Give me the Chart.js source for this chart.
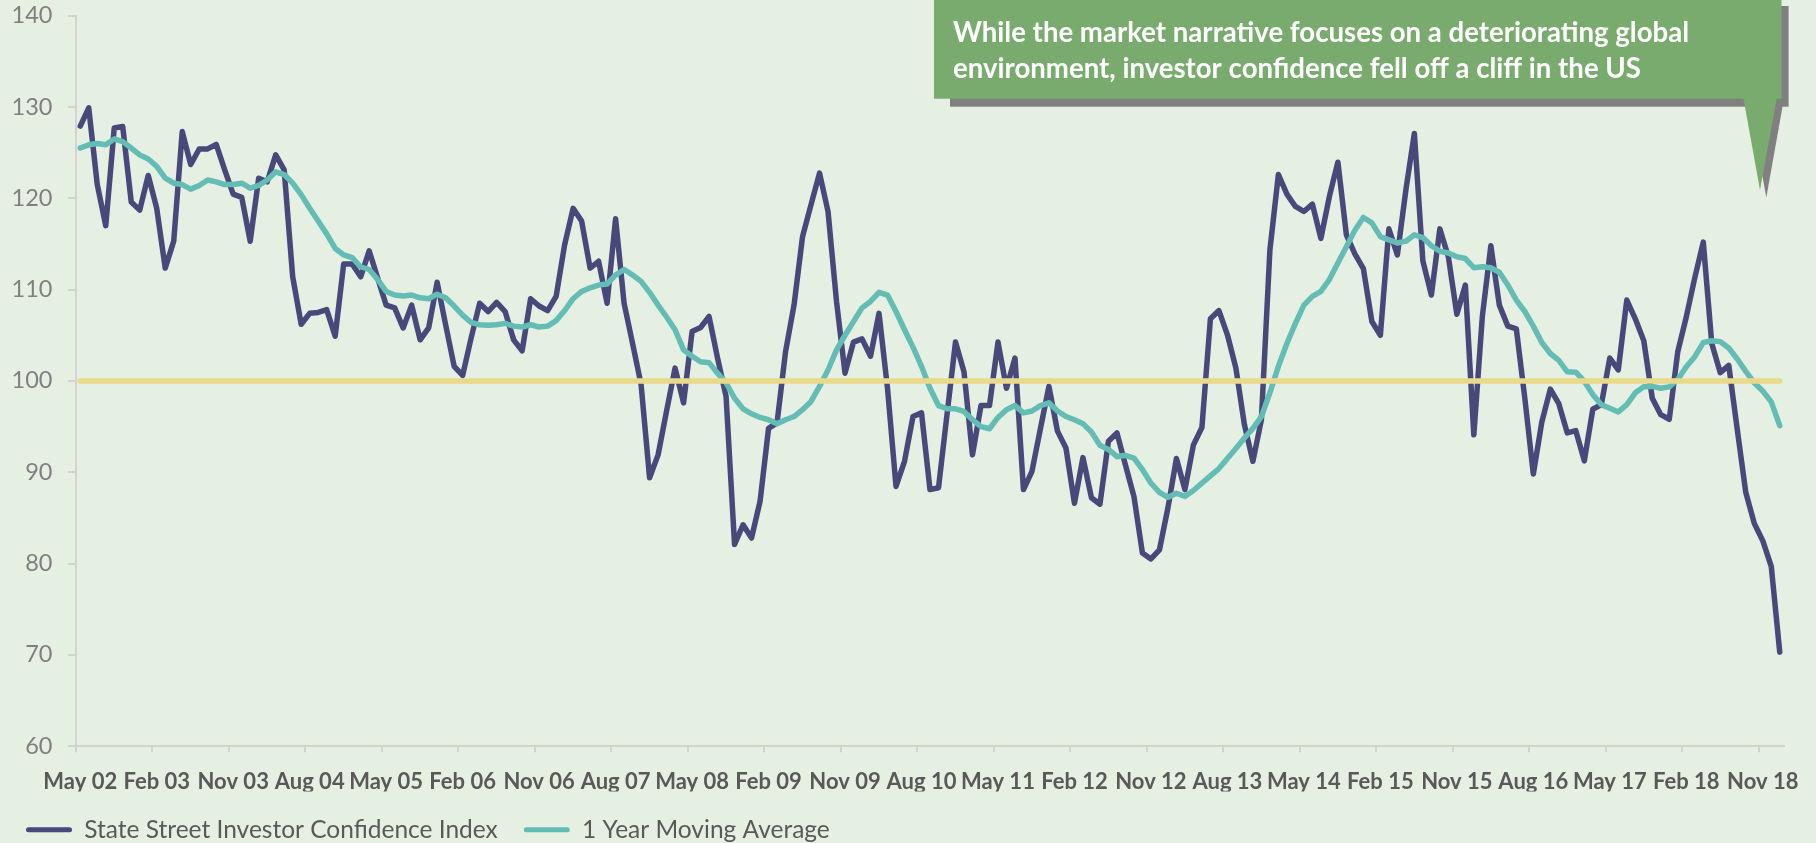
<!DOCTYPE html>
<html>
<head>
<meta charset="utf-8">
<script src="https://cdn.jsdelivr.net/npm/chart.js@4"></script>
<style>
  html, body { margin: 0; padding: 0; background: #e5efe2; overflow: hidden; }
  #wrap { width: 1816px; height: 843px; overflow: hidden; }
  canvas { display: block; }
</style>
</head>
<body>
<div id="wrap"><canvas id="chart" width="1816" height="852"></canvas></div>
<script>
// monthly, May 2002 .. Jan 2019
const tickLabels = ['May 02', 'Feb 03', 'Nov 03', 'Aug 04', 'May 05', 'Feb 06', 'Nov 06', 'Aug 07',
  'May 08', 'Feb 09', 'Nov 09', 'Aug 10', 'May 11', 'Feb 12', 'Nov 12', 'Aug 13', 'May 14',
  'Feb 15', 'Nov 15', 'Aug 16', 'May 17', 'Feb 18', 'Nov 18'];

const confidenceIndex = [
  127.9, 129.9, 121.5, 117.0, 127.7, 127.85, 119.6, 118.7, 122.5, 118.9,
  112.35, 115.3, 127.3, 123.7, 125.4, 125.4, 125.9, 123.1, 120.45, 120.1,
  115.3, 122.2, 121.8, 124.75, 123.1, 111.4, 106.2, 107.4, 107.5, 107.8,
  104.9, 112.8, 112.8, 111.4, 114.25, 111.25, 108.3, 108.0, 105.8, 108.3,
  104.5, 105.8, 110.8, 106.15, 101.6, 100.6, 104.7, 108.5, 107.6, 108.6,
  107.6, 104.5, 103.3, 109.0, 108.2, 107.7, 109.25, 114.9, 118.9, 117.5,
  112.35, 113.1, 108.5, 117.75, 108.5, 104.1, 99.6, 89.4, 91.9, 96.7,
  101.4, 97.6, 105.4, 105.85, 107.05, 102.5, 98.3, 82.1, 84.25, 82.8,
  86.8, 94.8, 95.4, 103.2, 108.3, 115.8, 119.3, 122.75, 118.55, 108.7,
  100.85, 104.25, 104.6, 102.7, 107.4, 99.2, 88.45, 91.2, 96.1, 96.5,
  88.1, 88.3, 96.3, 104.25, 101.0, 91.9, 97.3, 97.3, 104.25, 99.2,
  102.5, 88.1, 90.1, 94.8, 99.4, 94.5, 92.65, 86.6, 91.6, 87.2,
  86.5, 93.4, 94.3, 90.8, 87.35, 81.15, 80.5, 81.5, 86.1, 91.5,
  88.1, 93.0, 94.9, 106.8, 107.7, 105.05, 101.4, 95.2, 91.2, 95.75,
  114.35, 122.6, 120.45, 119.1, 118.55, 119.35, 115.6, 120.2, 123.95, 116.0,
  113.9, 112.3, 106.5, 105.0, 116.65, 113.8, 120.9, 127.1, 113.15, 109.4,
  116.65, 113.6, 107.3, 110.5, 94.1, 107.05, 114.8, 108.3, 106.0, 105.7,
  98.1, 89.8, 95.5, 99.1, 97.5, 94.3, 94.55, 91.25, 96.9, 97.4,
  102.5, 101.2, 108.85, 106.8, 104.4, 98.1, 96.3, 95.8, 103.2, 107.0,
  111.3, 115.2, 104.1, 100.9, 101.7, 94.7, 87.8, 84.4, 82.5, 79.7,
  70.3
];

const movingAverage = [
  125.5, 125.85, 126.0, 125.85, 126.5, 126.2, 125.5, 124.75, 124.3, 123.5,
  122.2, 121.65, 121.5, 121.0, 121.4, 122.0, 121.8, 121.5, 121.5, 121.65,
  121.1, 121.4, 122.0, 122.9, 122.6, 121.65, 120.4, 118.9, 117.5, 116.1,
  114.5, 113.8, 113.5, 112.5, 112.2, 111.1, 109.8, 109.4, 109.3, 109.4,
  109.1, 109.0, 109.5, 109.1, 108.2, 107.2, 106.4, 106.15, 106.1, 106.15,
  106.3, 106.0, 105.9, 106.15, 105.9, 106.0, 106.6, 107.7, 109.0, 109.8,
  110.2, 110.5, 110.6, 111.6, 112.2, 111.6, 110.9, 109.7, 108.3, 107.0,
  105.6, 103.4, 102.7, 102.1, 102.0, 100.85, 99.8, 98.1, 96.95, 96.4,
  96.0, 95.75, 95.3, 95.75, 96.1, 96.85, 97.75, 99.4, 101.2, 103.4,
  105.0, 106.5, 108.0, 108.7, 109.7, 109.4, 107.6, 105.6, 103.7, 101.6,
  99.2, 97.3, 96.95, 96.95, 96.66, 95.75, 95.0, 94.76, 96.0, 96.85,
  97.3, 96.5, 96.7, 97.3, 97.6, 96.7, 96.1, 95.75, 95.3, 94.4,
  92.95, 92.5, 91.7, 91.85, 91.55, 90.3, 88.8, 87.8, 87.25, 87.7,
  87.35, 88.0, 88.8, 89.6, 90.4, 91.5, 92.6, 93.75, 94.8, 96.1,
  98.7, 101.6, 104.1, 106.3, 108.3, 109.25, 109.8, 111.1, 112.9, 114.7,
  116.5, 117.9, 117.3, 115.8, 115.45, 115.1, 115.3, 116.0, 115.7, 114.8,
  114.2, 114.0, 113.6, 113.4, 112.4, 112.5, 112.4, 111.9, 110.5, 108.85,
  107.6, 106.0, 104.2, 103.0, 102.25, 101.0, 100.95, 99.95, 98.5, 97.4,
  97.0, 96.6, 97.4, 98.7, 99.35, 99.4, 99.2, 99.35, 100.15, 101.55,
  102.65, 104.2, 104.4, 104.3, 103.6, 102.4, 101.05, 99.8, 98.9, 97.7,
  95.1
];

const neutralLevel = 100;

const monthNames = ['Jan', 'Feb', 'Mar', 'Apr', 'May', 'Jun', 'Jul', 'Aug', 'Sep', 'Oct', 'Nov', 'Dec'];
const categories = confidenceIndex.map((_, i) => {
  const m = (4 + i) % 12;
  const y = 2002 + Math.floor((4 + i) / 12);
  return monthNames[m] + ' ' + String(y).slice(2);
});

const calloutLines = [
  'While the market narrative focuses on a deteriorating global',
  'environment, investor confidence fell off a cliff in the US'
];

const FONT = 'Lato, "Open Sans", sans-serif';

// green callout box with grey drop shadow, top right
const calloutPlugin = {
  id: 'callout',
  afterDraw(chart) {
    const ctx = chart.ctx;
    ctx.save();
    ctx.fillStyle = '#808080';
    ctx.fillRect(950, 6, 838.6, 100.7);
    ctx.beginPath();
    ctx.moveTo(1749.5, 104);
    ctx.lineTo(1783, 104);
    ctx.lineTo(1766.3, 197.5);
    ctx.closePath();
    ctx.fill();

    ctx.fillStyle = '#7aab6e';
    ctx.fillRect(934, -5, 847.5, 103.7);
    ctx.beginPath();
    ctx.moveTo(1743.4, 98);
    ctx.lineTo(1776.8, 98);
    ctx.lineTo(1760, 190);
    ctx.closePath();
    ctx.fill();

    let size = 28;
    ctx.font = 'bold ' + size + 'px ' + FONT;
    size = size * 736 / ctx.measureText(calloutLines[0]).width;
    ctx.font = 'bold ' + size.toFixed(2) + 'px ' + FONT;
    ctx.fillStyle = '#ffffff';
    ctx.textBaseline = 'alphabetic';
    ctx.textAlign = 'left';
    ctx.fillText(calloutLines[0], 953, 42);
    ctx.fillText(calloutLines[1], 953, 77.5);
    ctx.restore();
  }
};

new Chart(document.getElementById('chart'), {
  type: 'line',
  data: {
    labels: categories,
    datasets: [
      {
        label: 'State Street Investor Confidence Index',
        data: confidenceIndex,
        borderColor: '#47497a',
        backgroundColor: '#47497a',
        borderWidth: 5.5,
        pointRadius: 0,
        borderJoinStyle: 'round',
        borderCapStyle: 'round',
        order: 3
      },
      {
        label: '1 Year Moving Average',
        data: movingAverage,
        borderColor: '#63bdb5',
        backgroundColor: '#63bdb5',
        borderWidth: 5.5,
        pointRadius: 0,
        borderJoinStyle: 'round',
        borderCapStyle: 'round',
        order: 2
      },
      {
        label: 'Neutral',
        data: categories.map(() => neutralLevel),
        borderColor: '#e9d98a',
        backgroundColor: '#e9d98a',
        borderWidth: 5.5,
        pointRadius: 0,
        borderCapStyle: 'round',
        order: 1
      }
    ]
  },
  options: {
    responsive: false,
    animation: false,
    devicePixelRatio: 1,
    layout: { padding: { left: 0, right: 32, top: 0, bottom: 0 } },
    plugins: {
      tooltip: { enabled: false },
      legend: {
        position: 'bottom',
        align: 'start',
        labels: {
          boxWidth: 46,
          boxHeight: 5,
          padding: 26,
          color: '#595959',
          font: { family: FONT, size: 24.5 },
          filter: item => item.datasetIndex !== 2,
          sort: (a, b) => a.datasetIndex - b.datasetIndex,
          generateLabels(chart) {
            return Chart.defaults.plugins.legend.labels.generateLabels(chart).map(it => ({
              ...it, lineWidth: 0, fillStyle: it.strokeStyle, borderRadius: 2.5
            }));
          }
        }
      }
    },
    scales: {
      x: {
        offset: true,
        afterFit: s => { s.height = 45.3; },
        grid: {
          offset: true,
          drawOnChartArea: false,
          tickLength: 6,
          lineWidth: 2,
          color: c => (c.index % 9 === 0 ? '#d2d2d2' : 'rgba(0,0,0,0)')
        },
        border: { color: '#d2d2d2', width: 2 },
        ticks: {
          autoSkip: false,
          maxRotation: 0,
          minRotation: 0,
          padding: 17,
          color: '#595959',
          font: { family: FONT, size: 22, weight: 'bold' },
          callback: (v, i) => (i % 9 === 0 ? tickLabels[i / 9] : '')
        }
      },
      y: {
        min: 60,
        max: 140,
        afterFit: s => { s.width = 76; },
        grid: { drawOnChartArea: false, tickLength: 8, lineWidth: 2, color: '#d2d2d2' },
        border: { color: '#d2d2d2', width: 2 },
        ticks: {
          stepSize: 10,
          padding: 15.5,
          color: '#808080',
          font: { family: FONT, size: 23.5, lineHeight: 0.01 }
        }
      }
    }
  },
  plugins: [calloutPlugin]
});
</script>
</body>
</html>
